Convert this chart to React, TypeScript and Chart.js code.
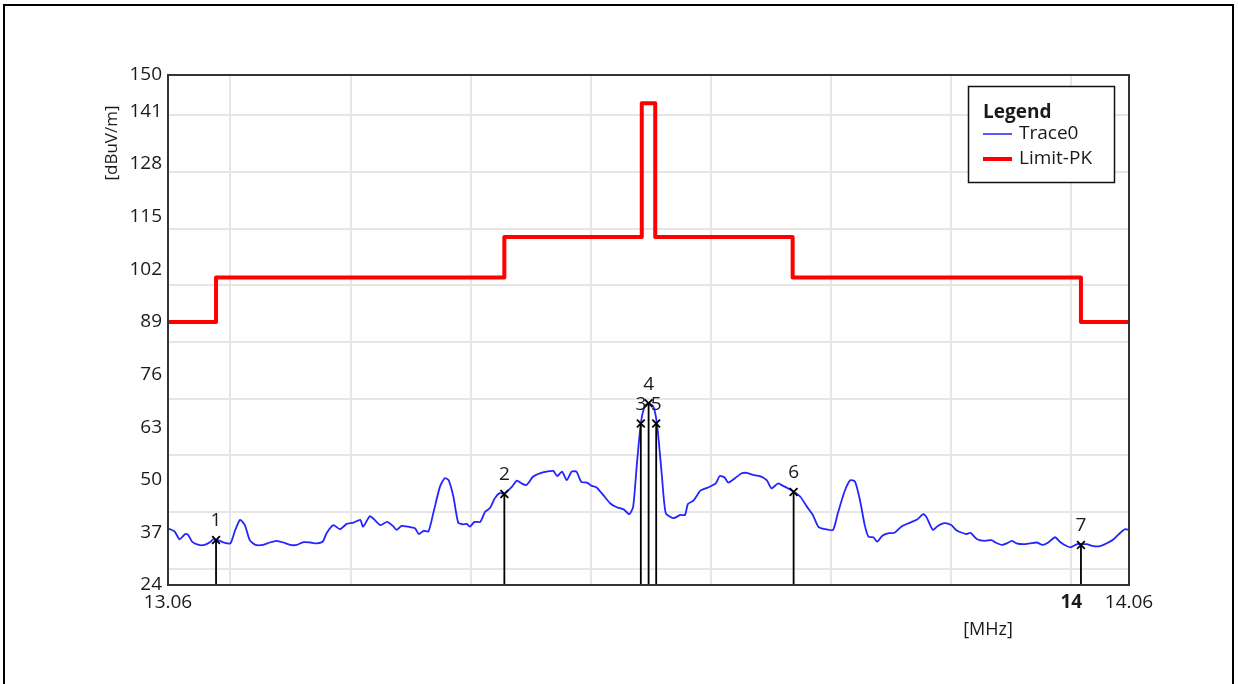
import React, { useEffect, useRef } from "react";
import { Chart, registerables } from "chart.js";

Chart.register(...registerables);

const FONT = "'Open Sans', 'DejaVu Sans', sans-serif";

const traceFreqs = [
  13.06, 13.062, 13.067, 13.072, 13.078, 13.081, 13.085, 13.092, 13.098, 13.104,
  13.107, 13.11, 13.112, 13.118, 13.125, 13.13, 13.135, 13.14, 13.145, 13.151,
  13.159, 13.166, 13.173, 13.18, 13.187, 13.194, 13.201, 13.208, 13.215, 13.221,
  13.225, 13.232, 13.239, 13.246, 13.253, 13.26, 13.263, 13.27, 13.275, 13.281,
  13.288, 13.294, 13.298, 13.303, 13.31, 13.317, 13.321, 13.326, 13.331, 13.336,
  13.343, 13.348, 13.352, 13.357, 13.362, 13.367, 13.371, 13.374, 13.379, 13.385,
  13.39, 13.395, 13.4, 13.405, 13.41, 13.418, 13.423, 13.428, 13.433, 13.44,
  13.447, 13.454, 13.461, 13.465, 13.47, 13.475, 13.48, 13.485, 13.49, 13.496,
  13.501, 13.506, 13.513, 13.52, 13.527, 13.534, 13.54, 13.544, 13.548, 13.552,
  13.556, 13.56, 13.565, 13.569, 13.574, 13.578, 13.586, 13.593, 13.598, 13.601,
  13.607, 13.614, 13.622, 13.63, 13.634, 13.639, 13.643, 13.65, 13.657, 13.662,
  13.669, 13.676, 13.683, 13.688, 13.695, 13.7, 13.705, 13.711, 13.718, 13.725,
  13.731, 13.737, 13.744, 13.752, 13.757, 13.764, 13.77, 13.775, 13.78, 13.785,
  13.789, 13.794, 13.798, 13.803, 13.81, 13.816, 13.823, 13.83, 13.839, 13.846,
  13.849, 13.856, 13.861, 13.868, 13.875, 13.88, 13.884, 13.891, 13.895, 13.902,
  13.91, 13.917, 13.921, 13.928, 13.933, 13.938, 13.943, 13.95, 13.957, 13.964,
  13.97, 13.976, 13.983, 13.988, 13.993, 13.999, 14.006, 14.011, 14.016, 14.023,
  14.03, 14.037, 14.044, 14.051, 14.056, 14.06,
];
const traceValues = [
  37.9, 37.8, 37.2, 35.3, 36.6, 36.4, 34.7, 33.9, 33.9, 34.6,
  35.3, 35.1, 35.1, 34.5, 34.3, 37.6, 40.1, 38.8, 35.1, 33.9,
  33.9, 34.5, 34.9, 34.5, 33.9, 33.9, 34.6, 34.5, 34.3, 34.7,
  36.8, 38.8, 37.8, 39.1, 39.4, 40.1, 38.4, 41.0, 40.1, 38.8,
  39.6, 38.6, 37.6, 38.6, 38.4, 38.0, 36.6, 37.4, 37.2, 41.7,
  48.3, 50.4, 49.9, 45.8, 39.4, 39.0, 39.1, 38.4, 39.6, 39.6,
  42.1, 43.0, 45.4, 46.7, 46.6, 48.3, 49.8, 49.1, 48.7, 50.8,
  51.6, 52.0, 52.2, 50.9, 52.0, 49.9, 52.0, 52.0, 49.5, 49.3,
  48.5, 48.1, 46.2, 44.2, 43.2, 42.7, 41.5, 43.3, 54.1, 63.9,
  68.1, 68.9, 68.1, 63.5, 50.8, 41.7, 40.5, 41.3, 41.3, 44.0,
  44.9, 47.3, 48.1, 49.1, 50.9, 50.6, 49.3, 50.4, 51.6, 51.7,
  51.2, 50.9, 49.9, 47.9, 49.1, 48.5, 47.9, 47.1, 45.8, 43.3,
  41.3, 38.3, 37.8, 37.6, 41.7, 47.1, 49.9, 49.5, 45.0, 38.8,
  35.9, 35.8, 34.7, 36.1, 36.8, 36.9, 38.4, 39.2, 40.1, 41.5,
  40.9, 37.6, 38.6, 39.3, 38.8, 37.6, 37.1, 36.6, 36.9, 35.3,
  34.9, 35.1, 34.5, 33.9, 34.3, 34.9, 34.3, 34.1, 34.3, 34.5,
  33.9, 34.5, 35.8, 34.7, 33.9, 33.3, 34.1, 34.1, 34.1, 33.6,
  33.6, 34.3, 35.3, 36.9, 37.8, 37.6,
];

const limitFreqs = [13.06, 13.11, 13.41, 13.553, 13.567, 13.71, 14.01, 14.06];
const limitValues = [89, 100, 110, 143, 110, 100, 89, 89];

const markerLabels = ["1", "2", "3", "4", "5", "6", "7"];
const markerFreqs = [13.11, 13.41, 13.552, 13.5601, 13.568, 13.711, 14.01];
const markerValues = [35.1, 46.5, 63.9, 68.9, 63.9, 47.0, 33.9];

const yTickLabels = [24, 37, 50, 63, 76, 89, 102, 115, 128, 141, 150];
const yGridValues = [28, 42, 56, 70, 84, 98, 112, 126, 140];
const xTickLabels = [13.06, 14, 14.06];
const xGridValues = [13.125, 13.25, 13.375, 13.5, 13.625, 13.75, 13.875, 14];

const seriesNames = ["Trace0", "Limit-PK"];
const legendTitle = "Legend";
const xTitle = "[MHz]";
const yTitle = "[dBuV/m]";

const GRID = "#e6e6e6";
const TEXT = "#1a1a1a";

const overlay = {
  id: "overlay",
  afterDatasetsDraw(chart: any) {
    const ctx = chart.ctx;
    const { left, top, right, bottom } = chart.chartArea;
    const xs = chart.scales.x;
    const ys = chart.scales.y;
    ctx.save();
    // plot frame
    ctx.strokeStyle = "#333";
    ctx.lineWidth = 2;
    ctx.strokeRect(left, top, right - left, bottom - top);
    // outer frame
    ctx.strokeStyle = "#000";
    ctx.lineWidth = 2;
    ctx.strokeRect(4, 5, 1229, 700);
    // marker labels
    ctx.fillStyle = TEXT;
    ctx.font = `19px ${FONT}`;
    ctx.textAlign = "center";
    ctx.textBaseline = "middle";
    markerLabels.forEach((l, i) => {
      ctx.fillText(
        l,
        xs.getPixelForValue(markerFreqs[i]),
        ys.getPixelForValue(markerValues[i]) - 19
      );
    });
    // axis titles
    ctx.font = `18px ${FONT}`;
    ctx.fillText(xTitle, 988, 630);
    ctx.font = `17px ${FONT}`;
    ctx.save();
    ctx.translate(112, 143);
    ctx.rotate(-Math.PI / 2);
    ctx.fillText(yTitle, 0, 0);
    ctx.restore();
    // legend
    const lx = 968.5, ly = 86.5, lw = 146, lh = 96;
    ctx.fillStyle = "#fff";
    ctx.fillRect(lx, ly, lw, lh);
    ctx.strokeStyle = "#111";
    ctx.lineWidth = 1.5;
    ctx.strokeRect(lx, ly, lw, lh);
    ctx.textAlign = "left";
    ctx.fillStyle = TEXT;
    ctx.font = `bold 19px ${FONT}`;
    ctx.fillText(legendTitle, 983, 113);
    ctx.font = `19px ${FONT}`;
    ctx.fillText(seriesNames[0], 1019, 134);
    ctx.fillText(seriesNames[1], 1019, 159);
    ctx.lineCap = "butt";
    ctx.strokeStyle = "#2020ff";
    ctx.lineWidth = 1.5;
    ctx.beginPath();
    ctx.moveTo(983, 134);
    ctx.lineTo(1012, 134);
    ctx.stroke();
    ctx.strokeStyle = "#ff0000";
    ctx.lineWidth = 4;
    ctx.beginPath();
    ctx.moveTo(983, 159);
    ctx.lineTo(1012, 159);
    ctx.stroke();
    ctx.restore();
  },
};

export default function App() {
  const ref = useRef<HTMLCanvasElement | null>(null);
  useEffect(() => {
    if (!ref.current) return;
    const trace = traceFreqs.map((f, i) => ({ x: f, y: traceValues[i] }));
    const limit = limitFreqs.map((f, i) => ({ x: f, y: limitValues[i] }));
    const markerSets = markerFreqs.map((f, i) => ({
      label: "M" + markerLabels[i],
      data: [
        { x: f, y: 24 },
        { x: f, y: markerValues[i] },
      ],
      borderColor: "#000",
      backgroundColor: "#000",
      borderWidth: 1.8,
      pointStyle: "crossRot",
      pointRadius: [0, 5.5],
      pointBorderWidth: 1.8,
      order: 0,
    }));
    const xTicks = Array.from(new Set([...xTickLabels, ...xGridValues])).sort((a, b) => a - b);
    const yTicks = Array.from(new Set([...yTickLabels, ...yGridValues])).sort((a, b) => a - b);
    const chart = new Chart(ref.current, {
      type: "line",
      data: {
        datasets: [
          ...markerSets,
          {
            label: seriesNames[1],
            data: limit,
            borderColor: "#ff0000",
            borderWidth: 4,
            stepped: "before",
            pointRadius: 0,
            borderJoinStyle: "round",
            order: 1,
          },
          {
            label: seriesNames[0],
            data: trace,
            borderColor: "#2424ff",
            borderWidth: 1.8,
            pointRadius: 0,
            tension: 0.2,
            order: 2,
          },
        ] as any,
      },
      options: {
        animation: false,
        responsive: false,
        events: [],
        layout: { padding: { left: 0, top: 75, right: 109, bottom: 0 } },
        plugins: { legend: { display: false }, tooltip: { enabled: false } },
        scales: {
          x: {
            type: "linear",
            min: 13.06,
            max: 14.06,
            afterBuildTicks: (s: any) => {
              s.ticks = xTicks.map((v) => ({ value: v }));
            },
            afterFit: (s: any) => {
              s.height = 99;
            },
            border: { display: false },
            grid: {
              drawTicks: false,
              lineWidth: 2,
              color: (c: any) =>
                c.tick && xGridValues.includes(c.tick.value) ? GRID : "rgba(0,0,0,0)",
            },
            ticks: {
              autoSkip: false,
              maxRotation: 0,
              padding: 6,
              color: TEXT,
              font: (c: any) => ({
                family: FONT,
                size: 19,
                weight: c.tick && c.tick.value === 14 ? "bold" : "normal",
              }),
              callback: (v: any) => (xTickLabels.includes(v) ? String(v) : ""),
            },
          },
          y: {
            type: "linear",
            min: 24,
            max: 150,
            afterBuildTicks: (s: any) => {
              s.ticks = yTicks.map((v) => ({ value: v }));
            },
            afterFit: (s: any) => {
              s.width = 168;
            },
            border: { display: false },
            grid: {
              drawTicks: false,
              lineWidth: 2,
              color: (c: any) =>
                c.tick && yGridValues.includes(c.tick.value) ? GRID : "rgba(0,0,0,0)",
            },
            ticks: {
              autoSkip: false,
              padding: 6,
              color: TEXT,
              font: { family: FONT, size: 19 },
              callback: (v: any) => (yTickLabels.includes(v) ? String(v) : ""),
            },
          },
        },
      } as any,
      plugins: [overlay],
    });
    return () => chart.destroy();
  }, []);
  return (
    <div style={{ position: "absolute", left: 0, top: 0, width: 1238, height: 684, background: "#fff" }}>
      <canvas ref={ref} width={1238} height={684} style={{ display: "block" }} />
    </div>
  );
}
